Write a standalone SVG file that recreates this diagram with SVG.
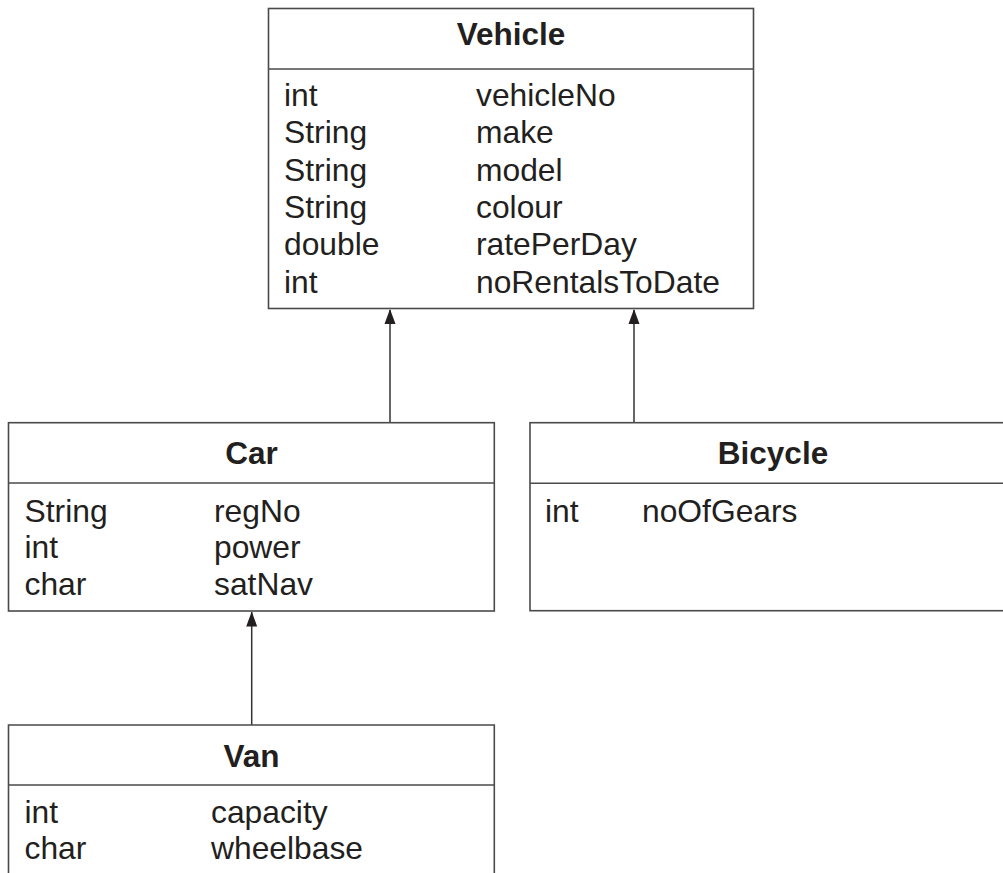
<svg xmlns="http://www.w3.org/2000/svg" width="1003" height="873" viewBox="0 0 1003 873">
<style>
.box{fill:#fff;stroke:#4a4a4a;stroke-width:1.6}
.div{stroke:#4a4a4a;stroke-width:1.6}
.t{font-family:"Liberation Sans",Arial,sans-serif;font-size:31.8px;fill:#231f20}
.h{font-family:"Liberation Sans",Arial,sans-serif;font-size:31.5px;font-weight:bold;fill:#231f20;text-anchor:middle}
.ln{stroke:#333;stroke-width:1.5}
.hd{fill:#231f20}
</style>
<rect width="1003" height="873" fill="#fff"/>
<g id="connectors">
<line class="ln" x1="390" y1="423" x2="390" y2="310"/>
<path class="hd" d="M390 309 L395.5 324 L384.5 324 Z"/>
<line class="ln" x1="634" y1="423" x2="634" y2="310"/>
<path class="hd" d="M634 309 L639.5 324 L628.5 324 Z"/>
<line class="ln" x1="251.7" y1="725" x2="251.7" y2="612"/>
<path class="hd" d="M251.7 611.5 L257.2 626.5 L246.2 626.5 Z"/>
</g>
<g id="vehicle">
<rect class="box" x="268.5" y="8.5" width="485" height="300"/>
<line class="div" x1="268.5" y1="69" x2="753.5" y2="69"/>
<text class="h" x="511" y="45">Vehicle</text>
<text class="t" x="284" y="106">int</text><text class="t" x="476" y="106">vehicleNo</text>
<text class="t" x="284" y="143.3">String</text><text class="t" x="476" y="143.3">make</text>
<text class="t" x="284" y="180.6">String</text><text class="t" x="476" y="180.6">model</text>
<text class="t" x="284" y="218">String</text><text class="t" x="476" y="218">colour</text>
<text class="t" x="284" y="255.3">double</text><text class="t" x="476" y="255.3">ratePerDay</text>
<text class="t" x="284" y="292.6">int</text><text class="t" x="476" y="292.6">noRentalsToDate</text>
</g>
<g id="car">
<rect class="box" x="8.5" y="422.7" width="485.8" height="188.3"/>
<line class="div" x1="8.5" y1="483" x2="494.3" y2="483"/>
<text class="h" x="251.5" y="464.3">Car</text>
<text class="t" x="24.5" y="521.7">String</text><text class="t" x="214" y="521.7">regNo</text>
<text class="t" x="24.5" y="558.3">int</text><text class="t" x="214" y="558.3">power</text>
<text class="t" x="24.5" y="595">char</text><text class="t" x="214" y="595">satNav</text>
</g>
<g id="bicycle">
<rect class="box" x="530" y="422.7" width="490" height="188"/>
<line class="div" x1="530" y1="483.3" x2="1020" y2="483.3"/>
<text class="h" x="773" y="463.5">Bicycle</text>
<text class="t" x="545" y="521.7">int</text><text class="t" x="642" y="521.7">noOfGears</text>
</g>
<g id="van">
<path class="box" d="M8.5 880 L8.5 725 L494.3 725 L494.3 880"/>
<line class="div" x1="8.5" y1="785" x2="494.3" y2="785"/>
<text class="h" x="251.5" y="766.7">Van</text>
<text class="t" x="24.5" y="823.3">int</text><text class="t" x="211" y="823.3">capacity</text>
<text class="t" x="24.5" y="859.3">char</text><text class="t" x="211" y="859.3">wheelbase</text>
</g>
</svg>
